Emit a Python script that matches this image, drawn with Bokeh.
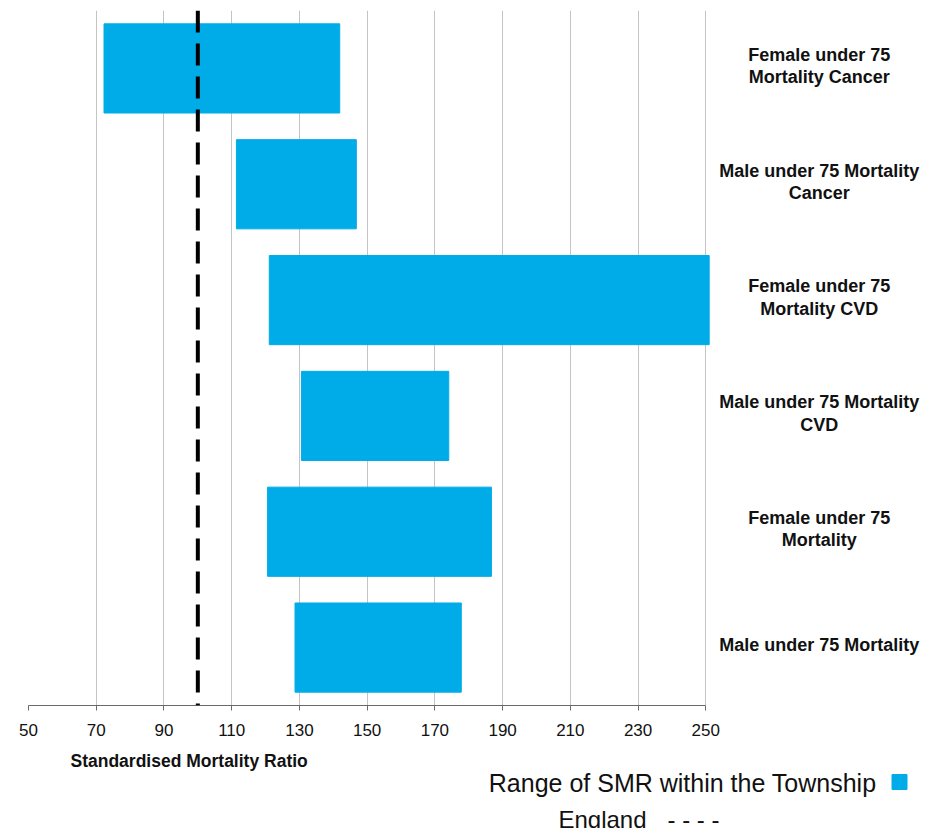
from bokeh.plotting import figure
from bokeh.layouts import column
from bokeh.models import FactorRange, Range1d, Span, FixedTicker, ColumnDataSource
from bokeh.core.properties import value
from bokeh.embed import file_html
from bokeh.resources import INLINE

# ---- data ----
categories = [
    "Female under 75\nMortality Cancer",
    "Male under 75 Mortality\nCancer",
    "Female under 75\nMortality CVD",
    "Male under 75 Mortality\nCVD",
    "Female under 75\nMortality",
    "Male under 75 Mortality",
]
smr_low = [72.3, 111.4, 121.1, 130.6, 120.6, 128.7]
smr_high = [141.9, 146.8, 251.0, 174.1, 186.7, 177.8]
england_smr = 100
x_ticks = [50, 70, 90, 110, 130, 150, 170, 190, 210, 230, 250]
x_axis_title = "Standardised Mortality Ratio"
legend_range = "Range of SMR within the Township"
legend_england = "England"

# ---- layout constants ----
W = 930
FRAME_LEFT = 28
PX_PER_UNIT = 677.3 / 200.0
MAIN_H = 745
LEG_H = 83
FONT = "Liberation Sans"
BAR_COLOR = "#00ACE8"
TXT = "#111111"


def px(page_x):
    return 50 + (page_x - FRAME_LEFT) / PX_PER_UNIT


src = ColumnDataSource(dict(cat=categories, low=smr_low, high=smr_high))

p = figure(
    width=W, height=MAIN_H,
    x_range=Range1d(50, px(W)),
    y_range=FactorRange(factors=list(reversed(categories))),
    output_backend="svg", toolbar_location=None,
    y_axis_location=None,
    min_border_left=FRAME_LEFT, min_border_right=0, min_border_top=10, min_border_bottom=40,
)
p.outline_line_color = None

p.ygrid.visible = False
p.xgrid.ticker = FixedTicker(ticks=x_ticks)
p.xgrid.bounds = (50, 250)
p.xgrid.grid_line_color = "#c4c4c4"
p.xgrid.grid_line_width = 1

ax = p.xaxis[0]
ax.ticker = FixedTicker(ticks=x_ticks)
ax.bounds = (50, 250)
ax.axis_line_color = "#6a6a6a"
ax.major_tick_line_color = "#6a6a6a"
ax.major_tick_in = 0
ax.major_tick_out = 5
ax.minor_tick_line_color = None
ax.major_label_text_font = FONT
ax.major_label_text_font_size = "17px"
ax.major_label_text_color = TXT
ax.major_label_standoff = 13

p.hbar(y="cat", left="low", right="high", height=0.77, source=src,
       fill_color=BAR_COLOR, line_color=BAR_COLOR)

p.text(x=px(818.7), y="cat", text="cat", source=src,
       text_align="center", text_baseline="middle", y_offset=-2.5,
       text_font=value(FONT), text_font_style="bold", text_font_size="18px",
       text_line_height=1.12, text_color=TXT)

p.add_layout(Span(location=england_smr, dimension="height", line_color="black",
                  line_width=4, line_dash="22 11"))

# ---- bottom strip: axis title and legend (page pixel coordinates) ----
leg = figure(
    width=W, height=LEG_H,
    x_range=Range1d(FRAME_LEFT, W), y_range=Range1d(MAIN_H + LEG_H, MAIN_H),
    output_backend="svg", toolbar_location=None,
    x_axis_location=None, y_axis_location=None,
    min_border_left=FRAME_LEFT, min_border_right=0, min_border_top=0, min_border_bottom=0,
)
leg.outline_line_color = None
leg.grid.visible = False

leg.text(x=[70], y=[760], text=[x_axis_title], text_align="left", text_baseline="middle",
         text_font=value(FONT), text_font_style="bold", text_font_size="17.5px", text_color=TXT)
leg.text(x=[876], y=[782], text=[legend_range], text_align="right", text_baseline="middle",
         text_font=value(FONT), text_font_size="25px", text_color=TXT)
leg.scatter(x=[899], y=[781.5], size=15, marker="square",
            fill_color=BAR_COLOR, line_color=BAR_COLOR)
leg.text(x=[646], y=[819], text=[legend_england], text_align="right", text_baseline="middle",
         text_font=value(FONT), text_font_size="24px", text_color=TXT)
leg.text(x=[667], y=[819], text=["- - - -"], text_align="left", text_baseline="middle",
         text_font=value(FONT), text_font_size="24px", text_color=TXT)

open("out.html", "w").write(file_html(column(p, leg, spacing=0), INLINE))
